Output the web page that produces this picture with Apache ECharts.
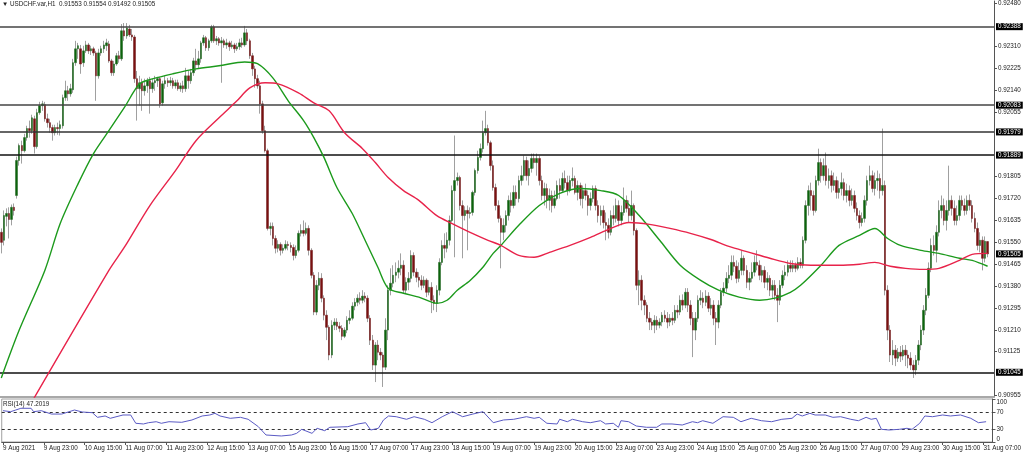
<!DOCTYPE html>
<html><head><meta charset="utf-8">
<script src="https://cdn.jsdelivr.net/npm/echarts@6.0.0/dist/echarts.min.js"></script>
<style>html,body{margin:0;padding:0;background:#fff}#c{width:1024px;height:454px}</style>
</head><body><div id="c"></div>
<script>
const symbolTitle = 'USDCHF.var,H1';
const rsiTitle = 'RSI(14) 47.2019';
const slotCount = 388;
const timeLabels = ['9 Aug 2021','9 Aug 23:00','10 Aug 15:00','11 Aug 07:00','11 Aug 23:00','12 Aug 15:00','13 Aug 07:00','15 Aug 23:00','16 Aug 15:00','17 Aug 07:00','17 Aug 23:00','18 Aug 15:00','19 Aug 07:00','19 Aug 23:00','20 Aug 15:00','23 Aug 07:00','23 Aug 23:00','24 Aug 15:00','25 Aug 07:00','25 Aug 23:00','26 Aug 15:00','27 Aug 07:00','29 Aug 23:00','30 Aug 15:00','31 Aug 07:00'];
// [open, close, low, high]
const ohlc = [
[0.91589,0.91550,0.91507,0.91604],[0.91558,0.91654,0.91538,0.91674],[0.91651,0.91662,0.91612,0.91682],[0.91662,0.91639,0.91565,0.91686],[0.91639,0.91686,0.91616,0.91697],
[0.91686,0.91674,0.91654,0.91701],[0.91732,0.91868,0.91720,0.91883],[0.91868,0.91926,0.91848,0.91934],[0.91926,0.91906,0.91856,0.91945],[0.91906,0.91957,0.91899,0.91972],
[0.91957,0.91992,0.91945,0.92003],[0.91992,0.91984,0.91957,0.92023],[0.91984,0.92034,0.91972,0.92046],[0.92030,0.91922,0.91895,0.92042],[0.91922,0.92054,0.91914,0.92069],
[0.92054,0.92081,0.92046,0.92096],[0.92081,0.92088,0.92061,0.92100],[0.92085,0.92030,0.92019,0.92096],[0.92030,0.92015,0.91996,0.92050],[0.92015,0.91996,0.91976,0.92030],
[0.91996,0.91976,0.91945,0.92007],[0.91976,0.91996,0.91965,0.92007],[0.91996,0.91992,0.91968,0.92015],[0.91992,0.92007,0.91965,0.92023],[0.92003,0.92112,0.91992,0.92124],
[0.92112,0.92139,0.92100,0.92178],[0.92139,0.92127,0.92100,0.92158],[0.92127,0.92147,0.92116,0.92166],[0.92143,0.92248,0.92131,0.92263],[0.92248,0.92302,0.92236,0.92333],
[0.92302,0.92314,0.92263,0.92325],[0.92302,0.92243,0.92205,0.92317],[0.92248,0.92294,0.92232,0.92314],[0.92294,0.92317,0.92286,0.92333],[0.92317,0.92294,0.92282,0.92325],
[0.92294,0.92302,0.92278,0.92314],[0.92302,0.92286,0.92275,0.92310],[0.92286,0.92197,0.92100,0.92294],[0.92197,0.92286,0.92186,0.92302],[0.92286,0.92302,0.92275,0.92314],
[0.92302,0.92317,0.92286,0.92333],[0.92314,0.92325,0.92294,0.92341],[0.92321,0.92255,0.92248,0.92333],[0.92255,0.92209,0.92197,0.92263],[0.92209,0.92243,0.92197,0.92255],
[0.92243,0.92275,0.92236,0.92286],[0.92275,0.92263,0.92248,0.92294],[0.92263,0.92372,0.92255,0.92398],[0.92372,0.92352,0.92333,0.92402],[0.92352,0.92383,0.92341,0.92402],
[0.92379,0.92356,0.92348,0.92395],[0.92356,0.92348,0.92333,0.92379],[0.92348,0.92186,0.92170,0.92356],[0.92186,0.92147,0.92023,0.92216],[0.92147,0.92170,0.92081,0.92197],
[0.92170,0.92139,0.92061,0.92186],[0.92139,0.92158,0.92120,0.92186],[0.92158,0.92178,0.92131,0.92189],[0.92178,0.92147,0.92050,0.92193],[0.92147,0.92170,0.92131,0.92186],
[0.92170,0.92178,0.92139,0.92197],[0.92178,0.92186,0.92154,0.92193],[0.92186,0.92088,0.92073,0.92193],[0.92092,0.92166,0.92081,0.92178],[0.92166,0.92178,0.92147,0.92197],
[0.92178,0.92170,0.92154,0.92189],[0.92170,0.92178,0.92158,0.92193],[0.92178,0.92158,0.92147,0.92189],[0.92158,0.92170,0.92147,0.92182],[0.92170,0.92147,0.92139,0.92182],
[0.92147,0.92158,0.92135,0.92170],[0.92158,0.92147,0.92131,0.92178],[0.92147,0.92197,0.92135,0.92228],[0.92197,0.92178,0.92147,0.92216],[0.92178,0.92209,0.92166,0.92224],
[0.92209,0.92255,0.92197,0.92267],[0.92255,0.92240,0.92216,0.92302],[0.92240,0.92263,0.92224,0.92294],[0.92263,0.92325,0.92248,0.92333],[0.92325,0.92345,0.92314,0.92356],
[0.92345,0.92306,0.92294,0.92352],[0.92306,0.92333,0.92294,0.92341],[0.92333,0.92387,0.92325,0.92395],[0.92387,0.92333,0.92325,0.92395],[0.92333,0.92341,0.92317,0.92352],
[0.92341,0.92325,0.92314,0.92348],[0.92325,0.92333,0.92170,0.92348],[0.92333,0.92317,0.92306,0.92341],[0.92317,0.92325,0.92302,0.92341],[0.92325,0.92310,0.92294,0.92333],
[0.92310,0.92317,0.92302,0.92333],[0.92317,0.92302,0.92286,0.92325],[0.92302,0.92310,0.92294,0.92325],[0.92310,0.92325,0.92298,0.92341],[0.92325,0.92317,0.92306,0.92345],
[0.92317,0.92364,0.92310,0.92391],[0.92364,0.92333,0.92317,0.92379],[0.92333,0.92275,0.92263,0.92341],[0.92275,0.92224,0.92197,0.92286],[0.92224,0.92186,0.92151,0.92236],
[0.92186,0.92158,0.92147,0.92201],[0.92158,0.92088,0.92050,0.92178],[0.92088,0.91984,0.91972,0.92100],[0.91984,0.91906,0.91899,0.92003],[0.91906,0.91604,0.91596,0.91914],
[0.91604,0.91612,0.91577,0.91627],[0.91612,0.91565,0.91538,0.91627],[0.91565,0.91527,0.91507,0.91577],[0.91527,0.91542,0.91511,0.91558],[0.91542,0.91519,0.91499,0.91550],
[0.91519,0.91527,0.91507,0.91542],[0.91527,0.91542,0.91519,0.91558],[0.91542,0.91538,0.91519,0.91554],[0.91538,0.91530,0.91511,0.91550],[0.91530,0.91499,0.91480,0.91542],
[0.91499,0.91519,0.91488,0.91538],[0.91519,0.91585,0.91511,0.91596],[0.91585,0.91596,0.91573,0.91620],[0.91596,0.91585,0.91573,0.91635],[0.91585,0.91604,0.91577,0.91627],
[0.91604,0.91519,0.91499,0.91616],[0.91519,0.91422,0.91410,0.91527],[0.91422,0.91279,0.91267,0.91434],[0.91279,0.91383,0.91267,0.91403],[0.91383,0.91410,0.91364,0.91434],
[0.91410,0.91333,0.91317,0.91430],[0.91333,0.91267,0.91247,0.91344],[0.91267,0.91220,0.91170,0.91286],[0.91220,0.91112,0.91092,0.91228],[0.91112,0.91228,0.91100,0.91247],
[0.91228,0.91240,0.91209,0.91255],[0.91240,0.91224,0.91209,0.91255],[0.91224,0.91216,0.91201,0.91240],[0.91216,0.91185,0.91170,0.91228],[0.91185,0.91209,0.91178,0.91220],
[0.91209,0.91247,0.91197,0.91263],[0.91247,0.91255,0.91232,0.91286],[0.91255,0.91302,0.91247,0.91317],[0.91302,0.91317,0.91286,0.91333],[0.91317,0.91333,0.91302,0.91348],
[0.91333,0.91325,0.91309,0.91356],[0.91325,0.91341,0.91313,0.91364],[0.91341,0.91333,0.91317,0.91356],[0.91333,0.91255,0.91240,0.91344],[0.91255,0.91170,0.91151,0.91267],
[0.91170,0.91073,0.91054,0.91190],[0.91073,0.91151,0.91007,0.91162],[0.91151,0.91123,0.91092,0.91170],[0.91123,0.91112,0.91092,0.91139],[0.91112,0.91065,0.90988,0.91123],
[0.91065,0.91209,0.91054,0.91255],[0.91209,0.91364,0.91170,0.91383],[0.91364,0.91391,0.91344,0.91449],[0.91391,0.91422,0.91375,0.91461],[0.91422,0.91434,0.91395,0.91472],
[0.91434,0.91449,0.91410,0.91480],[0.91449,0.91461,0.91422,0.91507],[0.91461,0.91364,0.91352,0.91480],[0.91364,0.91395,0.91352,0.91414],[0.91395,0.91410,0.91364,0.91434],
[0.91410,0.91499,0.91395,0.91519],[0.91499,0.91434,0.91418,0.91511],[0.91434,0.91414,0.91395,0.91449],[0.91414,0.91403,0.91375,0.91434],[0.91403,0.91383,0.91364,0.91422],
[0.91383,0.91403,0.91372,0.91418],[0.91403,0.91356,0.91337,0.91410],[0.91356,0.91375,0.91344,0.91403],[0.91375,0.91325,0.91275,0.91395],[0.91325,0.91313,0.91286,0.91344],
[0.91313,0.91364,0.91279,0.91383],[0.91364,0.91472,0.91344,0.91488],[0.91472,0.91538,0.91461,0.91558],[0.91538,0.91527,0.91488,0.91585],[0.91527,0.91558,0.91511,0.91589],
[0.91558,0.91635,0.91538,0.91654],[0.91635,0.91751,0.91627,0.91771],[0.91751,0.91790,0.91492,0.91965],[0.91790,0.91802,0.91771,0.91821],[0.91802,0.91693,0.91674,0.91809],
[0.91693,0.91654,0.91488,0.91713],[0.91654,0.91674,0.91635,0.91690],[0.91674,0.91662,0.91519,0.91693],[0.91662,0.91666,0.91643,0.91686],[0.91666,0.91744,0.91654,0.91751],
[0.91744,0.91829,0.91732,0.91837],[0.91829,0.91880,0.91817,0.91906],[0.91880,0.91914,0.91868,0.91934],[0.91914,0.91976,0.91899,0.92023],[0.91976,0.91992,0.91965,0.92061],
[0.91992,0.91937,0.91926,0.92007],[0.91937,0.91848,0.91829,0.91945],[0.91848,0.91763,0.91751,0.91868],[0.91763,0.91693,0.91674,0.91778],[0.91693,0.91643,0.91627,0.91713],
[0.91643,0.91589,0.91449,0.91654],[0.91589,0.91616,0.91558,0.91643],[0.91616,0.91654,0.91589,0.91674],[0.91654,0.91713,0.91635,0.91732],[0.91713,0.91693,0.91666,0.91744],
[0.91693,0.91744,0.91682,0.91771],[0.91744,0.91720,0.91693,0.91771],[0.91720,0.91790,0.91705,0.91809],[0.91790,0.91809,0.91771,0.91848],[0.91809,0.91868,0.91790,0.91887],
[0.91868,0.91809,0.91790,0.91883],[0.91809,0.91837,0.91771,0.91868],[0.91837,0.91876,0.91821,0.91895],[0.91876,0.91860,0.91837,0.91895],[0.91860,0.91876,0.91809,0.91895],
[0.91876,0.91790,0.91771,0.91887],[0.91790,0.91732,0.91713,0.91809],[0.91732,0.91759,0.91693,0.91782],[0.91759,0.91713,0.91682,0.91778],[0.91713,0.91732,0.91674,0.91759],
[0.91732,0.91693,0.91666,0.91751],[0.91693,0.91720,0.91682,0.91751],[0.91720,0.91771,0.91713,0.91790],[0.91771,0.91751,0.91720,0.91798],[0.91751,0.91798,0.91744,0.91821],
[0.91798,0.91782,0.91759,0.91829],[0.91782,0.91751,0.91732,0.91809],[0.91751,0.91790,0.91744,0.91809],[0.91790,0.91798,0.91767,0.91841],[0.91798,0.91744,0.91736,0.91809],
[0.91744,0.91771,0.91713,0.91790],[0.91771,0.91720,0.91693,0.91782],[0.91720,0.91751,0.91682,0.91771],[0.91751,0.91732,0.91713,0.91778],[0.91732,0.91693,0.91654,0.91751],
[0.91693,0.91720,0.91674,0.91744],[0.91720,0.91759,0.91705,0.91771],[0.91759,0.91693,0.91674,0.91771],[0.91693,0.91654,0.91627,0.91713],[0.91654,0.91674,0.91616,0.91693],
[0.91674,0.91627,0.91604,0.91693],[0.91627,0.91616,0.91558,0.91666],[0.91616,0.91589,0.91565,0.91643],[0.91589,0.91654,0.91577,0.91674],[0.91654,0.91643,0.91616,0.91693],
[0.91643,0.91693,0.91627,0.91720],[0.91693,0.91635,0.91612,0.91713],[0.91635,0.91666,0.91616,0.91693],[0.91666,0.91713,0.91654,0.91763],[0.91713,0.91682,0.91666,0.91732],
[0.91682,0.91654,0.91627,0.91713],[0.91654,0.91693,0.91635,0.91751],[0.91693,0.91596,0.91577,0.91701],[0.91596,0.91383,0.91364,0.91604],[0.91383,0.91403,0.91306,0.91441],
[0.91403,0.91325,0.91286,0.91422],[0.91325,0.91306,0.91267,0.91344],[0.91306,0.91255,0.91240,0.91317],[0.91255,0.91240,0.91209,0.91279],[0.91240,0.91228,0.91209,0.91255],
[0.91228,0.91247,0.91197,0.91267],[0.91247,0.91228,0.91209,0.91263],[0.91228,0.91240,0.91216,0.91255],[0.91240,0.91267,0.91224,0.91279],[0.91267,0.91255,0.91240,0.91286],
[0.91255,0.91240,0.91216,0.91279],[0.91240,0.91255,0.91224,0.91271],[0.91255,0.91247,0.91228,0.91279],[0.91247,0.91286,0.91236,0.91306],[0.91286,0.91279,0.91255,0.91306],
[0.91279,0.91325,0.91267,0.91344],[0.91325,0.91306,0.91286,0.91348],[0.91306,0.91356,0.91294,0.91372],[0.91356,0.91306,0.91279,0.91372],[0.91306,0.91255,0.91228,0.91325],
[0.91255,0.91209,0.91104,0.91279],[0.91209,0.91255,0.91170,0.91279],[0.91255,0.91325,0.91240,0.91344],[0.91325,0.91333,0.91306,0.91364],[0.91333,0.91317,0.91294,0.91356],
[0.91317,0.91341,0.91302,0.91364],[0.91341,0.91294,0.91279,0.91356],[0.91294,0.91306,0.91267,0.91333],[0.91306,0.91255,0.91228,0.91325],[0.91255,0.91240,0.91151,0.91279],
[0.91240,0.91306,0.91216,0.91325],[0.91306,0.91356,0.91294,0.91372],[0.91356,0.91372,0.91341,0.91395],[0.91372,0.91410,0.91356,0.91434],[0.91410,0.91422,0.91391,0.91461],
[0.91422,0.91472,0.91403,0.91499],[0.91472,0.91457,0.91434,0.91499],[0.91457,0.91410,0.91391,0.91480],[0.91410,0.91441,0.91395,0.91472],[0.91441,0.91488,0.91422,0.91519],
[0.91488,0.91441,0.91422,0.91499],[0.91441,0.91395,0.91372,0.91461],[0.91395,0.91410,0.91364,0.91434],[0.91410,0.91434,0.91395,0.91472],[0.91434,0.91472,0.91418,0.91499],
[0.91472,0.91461,0.91441,0.91519],[0.91461,0.91422,0.91403,0.91480],[0.91422,0.91441,0.91395,0.91461],[0.91441,0.91395,0.91372,0.91457],[0.91395,0.91410,0.91364,0.91434],
[0.91410,0.91364,0.91341,0.91422],[0.91364,0.91383,0.91333,0.91403],[0.91383,0.91344,0.91325,0.91403],[0.91344,0.91325,0.91240,0.91372],[0.91325,0.91383,0.91306,0.91403],
[0.91383,0.91422,0.91372,0.91441],[0.91422,0.91434,0.91403,0.91461],[0.91434,0.91461,0.91418,0.91480],[0.91461,0.91449,0.91434,0.91480],[0.91449,0.91461,0.91434,0.91480],
[0.91461,0.91449,0.91434,0.91472],[0.91449,0.91472,0.91441,0.91492],[0.91472,0.91461,0.91449,0.91488],[0.91461,0.91558,0.91449,0.91573],[0.91558,0.91693,0.91546,0.91713],
[0.91693,0.91751,0.91654,0.91771],[0.91751,0.91732,0.91674,0.91782],[0.91732,0.91674,0.91654,0.91751],[0.91674,0.91790,0.91666,0.91809],[0.91790,0.91860,0.91771,0.91914],
[0.91860,0.91809,0.91782,0.91876],[0.91809,0.91848,0.91790,0.91876],[0.91848,0.91790,0.91771,0.91899],[0.91790,0.91809,0.91759,0.91837],[0.91809,0.91771,0.91744,0.91829],
[0.91771,0.91790,0.91751,0.91821],[0.91790,0.91744,0.91720,0.91806],[0.91744,0.91759,0.91720,0.91790],[0.91759,0.91782,0.91732,0.91821],[0.91782,0.91732,0.91713,0.91798],
[0.91732,0.91751,0.91705,0.91778],[0.91751,0.91713,0.91690,0.91771],[0.91713,0.91732,0.91693,0.91759],[0.91732,0.91682,0.91666,0.91751],[0.91682,0.91654,0.91635,0.91705],
[0.91654,0.91627,0.91604,0.91674],[0.91627,0.91643,0.91612,0.91666],[0.91643,0.91713,0.91627,0.91732],[0.91713,0.91790,0.91693,0.91809],[0.91790,0.91809,0.91771,0.91848],
[0.91809,0.91759,0.91744,0.91829],[0.91759,0.91790,0.91732,0.91821],[0.91790,0.91798,0.91751,0.91829],[0.91798,0.91751,0.91720,0.91817],[0.91751,0.91771,0.91732,0.91992],
[0.91771,0.91364,0.91344,0.91790],[0.91364,0.91209,0.91170,0.91383],[0.91209,0.91112,0.91085,0.91228],[0.91112,0.91131,0.91073,0.91170],[0.91131,0.91100,0.91069,0.91151],
[0.91100,0.91123,0.91085,0.91139],[0.91123,0.91108,0.91085,0.91147],[0.91108,0.91131,0.91092,0.91151],[0.91131,0.91112,0.91069,0.91151],[0.91112,0.91100,0.91061,0.91131],
[0.91100,0.91073,0.91054,0.91123],[0.91073,0.91054,0.91023,0.91092],[0.91054,0.91092,0.91034,0.91112],[0.91092,0.91151,0.91073,0.91170],[0.91151,0.91209,0.91131,0.91228],
[0.91209,0.91286,0.91190,0.91306],[0.91286,0.91344,0.91267,0.91372],[0.91344,0.91449,0.91333,0.91472],[0.91449,0.91538,0.91434,0.91565],[0.91538,0.91519,0.91499,0.91577],
[0.91519,0.91589,0.91472,0.91616],[0.91589,0.91674,0.91573,0.91713],[0.91674,0.91693,0.91643,0.91732],[0.91693,0.91635,0.91616,0.91720],[0.91635,0.91674,0.91596,0.91713],
[0.91674,0.91713,0.91654,0.91848],[0.91713,0.91682,0.91654,0.91732],[0.91682,0.91635,0.91616,0.91713],[0.91635,0.91654,0.91616,0.91693],[0.91654,0.91713,0.91635,0.91732],
[0.91713,0.91693,0.91674,0.91732],[0.91693,0.91674,0.91654,0.91720],[0.91674,0.91713,0.91658,0.91732],[0.91713,0.91693,0.91674,0.91736],[0.91693,0.91643,0.91627,0.91713],
[0.91643,0.91604,0.91589,0.91666],[0.91604,0.91538,0.91519,0.91627],[0.91538,0.91558,0.91511,0.91589],[0.91558,0.91488,0.91441,0.91573],[0.91488,0.91554,0.91472,0.91573],
[0.91553,0.91505,0.91492,0.91554]
];
const levelLines = [0.92388, 0.92083, 0.91979, 0.91889, 0.91045];
const levelColors = ['#444', '#444', '#333', '#111', '#111'];
const currentPrice = 0.91505;
const priceAxisMin = 0.90949, priceAxisMax = 0.924878;
const priceTicks = [0.92480, 0.92310, 0.92225, 0.92140, 0.92055, 0.91805, 0.91720, 0.91635, 0.91550, 0.91465, 0.91380, 0.91295, 0.91210, 0.91125, 0.90955];
// moving averages: [bar index, price]
const maGreen = [[0,0.91023],[7,0.91209],[17,0.91441],[23,0.91623],[30,0.91778],[36,0.91895],[42,0.91984],[48,0.92073],[54,0.92166],[59,0.92185],[67,0.92205],[76,0.92224],[85,0.92236],[95,0.92251],[100,0.92244],[106,0.92189],[112,0.92100],[118,0.92023],[122,0.91957],[126,0.91879],[131,0.91763],[137,0.91662],[142,0.91558],[147,0.91453],[151,0.91372],[157,0.91352],[163,0.91337],[170,0.91313],[174,0.91325],[178,0.91364],[183,0.91402],[188,0.91453],[192,0.91507],[195,0.91538],[202,0.91616],[210,0.91693],[218,0.91740],[226,0.91759],[234,0.91751],[241,0.91732],[249,0.91654],[257,0.91558],[265,0.91461],[273,0.91402],[280,0.91364],[288,0.91337],[296,0.91325],[302,0.91333],[308,0.91356],[312,0.91383],[320,0.91461],[327,0.91538],[335,0.91577],[341,0.91604],[346,0.91565],[351,0.91538],[359,0.91519],[366,0.91507],[374,0.91488],[379,0.91480],[385,0.91457]];
const maRed = [[11,0.90914],[42,0.91441],[48,0.91530],[58,0.91693],[68,0.91829],[76,0.91945],[85,0.92034],[92,0.92100],[97,0.92150],[103,0.92170],[108,0.92166],[116,0.92131],[122,0.92092],[128,0.92061],[134,0.91976],[141,0.91914],[146,0.91860],[151,0.91802],[157,0.91751],[163,0.91713],[170,0.91654],[176,0.91623],[183,0.91589],[190,0.91558],[195,0.91538],[202,0.91499],[208,0.91492],[214,0.91511],[222,0.91538],[230,0.91569],[238,0.91604],[245,0.91627],[253,0.91620],[261,0.91604],[269,0.91585],[277,0.91561],[284,0.91534],[292,0.91511],[300,0.91488],[308,0.91468],[316,0.91461],[327,0.91461],[335,0.91465],[341,0.91472],[347,0.91457],[353,0.91449],[360,0.91445],[366,0.91449],[374,0.91480],[379,0.91503],[385,0.91507]];
const rsi = [[0,72.8],[3,70.5],[5,74.4],[7,78.4],[11,78.4],[12,70.5],[15,72.8],[19,65],[23,65],[28,74.4],[31,69.8],[35,68.2],[37,57.4],[40,60.5],[42,55.1],[47,62.8],[50,62.8],[52,43.5],[55,41.9],[57,44.9],[60,47.2],[62,43.5],[65,47.2],[70,45.8],[74,51.2],[78,60.5],[81,62.8],[83,66.7],[85,60.5],[89,55.1],[93,57.4],[96,52.8],[100,35.6],[103,16.3],[109,14],[113,16.3],[115,20.2],[117,29.5],[121,20.2],[123,31.9],[126,26.3],[128,34.2],[135,35.6],[139,41.9],[142,44.9],[144,27.9],[147,31.9],[149,51.2],[151,60.5],[154,58.8],[158,52.8],[161,58.8],[165,52.8],[168,44.9],[172,58.8],[176,70.5],[180,58.8],[184,65],[188,70.5],[192,44.9],[196,51.2],[200,52.8],[205,58.8],[208,55.1],[210,57.4],[213,43.5],[217,41.9],[218,52.8],[221,47.2],[223,52.8],[227,47.2],[230,44.9],[234,49.5],[236,41.9],[239,43.5],[241,34.2],[242,49.5],[245,47.2],[248,37.2],[252,34.2],[256,34.2],[258,41.9],[262,41.9],[266,39.5],[270,47.2],[272,44.9],[274,49.5],[278,43.5],[282,58.8],[286,57.4],[289,47.2],[293,55.1],[297,49.5],[301,47.2],[305,52.8],[309,55.1],[311,65],[313,60.5],[316,66.7],[318,62.8],[322,62.8],[325,57.4],[328,58.8],[332,52.8],[335,49.5],[338,57.4],[340,52.8],[342,55.1],[344,29.5],[347,27.9],[351,29.5],[354,31.9],[356,29.5],[359,43.5],[361,60.5],[364,58.8],[368,62.8],[371,60.5],[375,62.8],[379,55.1],[382,44.9],[385,47.2]];
const rsiLevels = [70, 30];
const rsiTicks = [0, 30, 70, 100];

const FONT = '"Liberation Sans", Arial, sans-serif';
const FS = 6.3;
const cats = Array.from({length: slotCount}, (_, i) => String(i));
const bodies = ohlc.map(d => [d[0], d[1], Math.min(d[0], d[1]), Math.max(d[0], d[1])]);
const last = ohlc[ohlc.length - 1];
const fmt5 = v => Number(v).toFixed(5);

const chart = echarts.init(document.getElementById('c'), null, {renderer: 'canvas'});
chart.setOption({
  animation: false,
  backgroundColor: '#ffffff',
  textStyle: {fontFamily: FONT},
  title: [
    {text: '\u25BC ' + symbolTitle + '  ' + [last[0], last[3], last[2], last[1]].map(fmt5).join(' '),
     left: 2, top: 1, padding: 0, textStyle: {fontSize: FS, fontWeight: 'normal', color: '#222', fontFamily: FONT}},
    {text: rsiTitle, left: 3, top: 401, padding: 0, textStyle: {fontSize: FS, fontWeight: 'normal', color: '#222', fontFamily: FONT}}
  ],
  grid: [
    {left: 0, top: 0, width: 994, height: 397},
    {left: 0, top: 399, width: 994, height: 43, show: true, borderColor: '#a0a0a0', borderWidth: 1}
  ],
  xAxis: [
    {type: 'category', gridIndex: 0, data: cats, boundaryGap: true,
     axisLine: {show: true, lineStyle: {color: '#a8a8a8', width: 2}}, axisTick: {show: false}, axisLabel: {show: false}, splitLine: {show: false}},
    {type: 'category', gridIndex: 1, data: cats, boundaryGap: true,
     axisLine: {show: true, lineStyle: {color: '#555', width: 1}},
     axisTick: {show: true, interval: 15, alignWithLabel: true, length: 3, lineStyle: {color: '#555'}},
     axisLabel: {show: true, interval: 15, align: 'left', margin: 3, fontSize: FS, color: '#222', fontFamily: FONT,
                 formatter: (v, idx) => timeLabels[idx / 16] || ''},
     splitLine: {show: false}}
  ],
  yAxis: [
    {type: 'value', gridIndex: 0, position: 'right', min: priceAxisMin, max: priceAxisMax,
     axisLine: {show: true, lineStyle: {color: '#555', width: 1}},
     axisTick: {show: true, length: 3, customValues: priceTicks, lineStyle: {color: '#555'}},
     axisLabel: {show: true, customValues: priceTicks, formatter: fmt5, margin: 4, fontSize: FS, color: '#222', fontFamily: FONT},
     splitLine: {show: false}},
    {type: 'value', gridIndex: 1, position: 'right', min: 0, max: 100,
     axisLine: {show: true, lineStyle: {color: '#555', width: 1}},
     axisTick: {show: true, length: 3, customValues: rsiTicks, lineStyle: {color: '#555'}},
     axisLabel: {show: true, customValues: rsiTicks, margin: 4, fontSize: FS, color: '#222', fontFamily: FONT,
                 verticalAlignMaxLabel: 'top', verticalAlignMinLabel: 'bottom'},
     splitLine: {show: false}}
  ],
  series: [
    {type: 'candlestick', name: 'wicks', xAxisIndex: 0, yAxisIndex: 0, data: ohlc, barWidth: 1, z: 2,
     itemStyle: {color: '#a0a0a0', color0: '#a0a0a0', borderColor: '#a0a0a0', borderColor0: '#a0a0a0', borderColorDoji: '#a0a0a0', borderWidth: 1}},
    {type: 'candlestick', name: 'bodies', xAxisIndex: 0, yAxisIndex: 0, data: bodies, barWidth: 2, z: 3,
     itemStyle: {color: '#0b640b', color0: '#7a1010', borderColor: '#2f6f2f', borderColor0: '#7a2a2a', borderColorDoji: '#888', borderWidth: 0.6}},
    {type: 'line', name: 'levels', xAxisIndex: 0, yAxisIndex: 0, data: [], z: 4,
     markLine: {silent: true, symbol: ['none', 'none'], animation: false, precision: 5,
       label: {show: true, position: 'end', distance: 2, formatter: p => fmt5(p.value), color: '#fff', backgroundColor: '#000',
               padding: [1, 2, 0, 2], fontSize: FS, fontFamily: FONT},
       data: levelLines.map((v, k) => ({yAxis: v, lineStyle: {color: levelColors[k], width: 1.6, type: 'solid'}}))
             .concat([{yAxis: currentPrice, lineStyle: {color: 'rgba(0,0,0,0)', width: 0}}])}},
    {type: 'line', name: 'maGreen', xAxisIndex: 0, yAxisIndex: 0, data: maGreen, showSymbol: false, smooth: 0.3, z: 5,
     lineStyle: {color: '#1c9a1c', width: 1.4}},
    {type: 'line', name: 'maRed', xAxisIndex: 0, yAxisIndex: 0, data: maRed, showSymbol: false, smooth: 0.3, z: 5,
     lineStyle: {color: '#e8234a', width: 1.4}},
    {type: 'line', name: 'rsi', xAxisIndex: 1, yAxisIndex: 1, data: rsi, showSymbol: false, z: 5,
     lineStyle: {color: '#5a5ac4', width: 1},
     markLine: {silent: true, symbol: ['none', 'none'], animation: false, label: {show: false},
       lineStyle: {color: '#333', width: 1, type: [3, 3]},
       data: rsiLevels.map(v => ({yAxis: v}))}}
  ]
});
</script></body></html>
